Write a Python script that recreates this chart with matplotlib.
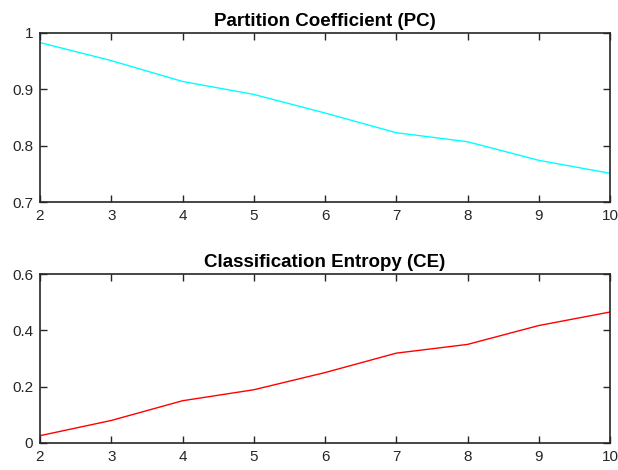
import matplotlib
matplotlib.use("Agg")
import matplotlib.pyplot as plt

clusters = [2, 3, 4, 5, 6, 7, 8, 9, 10]
pc_values = [0.983, 0.951, 0.914, 0.891, 0.858, 0.823, 0.807, 0.774, 0.751]
ce_values = [0.026, 0.080, 0.150, 0.189, 0.250, 0.319, 0.350, 0.417, 0.465]
pc_yticks = [0.7, 0.8, 0.9, 1.0]
pc_yticklabels = ["0.7", "0.8", "0.9", "1"]
ce_yticks = [0, 0.2, 0.4, 0.6]
ce_yticklabels = ["0", "0.2", "0.4", "0.6"]

plt.rcParams['font.family'] = ['Liberation Sans', 'DejaVu Sans']
fig = plt.figure(figsize=(6.18, 4.70), dpi=100)

W, H = 618, 470
def pos(x0, y0, x1, y1):
    return [x0 / W, 1 - y1 / H, (x1 - x0) / W, (y1 - y0) / H]

ax1 = fig.add_axes(pos(40, 33, 610, 202))
ax2 = fig.add_axes(pos(40, 274, 610, 443))

dark = '#262626'
for ax, vals, col, title, yt, ytl, ylim in [
    (ax1, pc_values, '#00ffff', 'Partition Coefficient (PC)', pc_yticks, pc_yticklabels, (0.7, 1.0)),
    (ax2, ce_values, '#ff0000', 'Classification Entropy (CE)', ce_yticks, ce_yticklabels, (0, 0.6)),
]:
    ax.plot(clusters, vals, color=col, lw=1.0)
    ax.set_xlim(2, 10)
    ax.set_ylim(*ylim)
    ax.set_xticks(clusters)
    ax.set_yticks(yt)
    ax.set_yticklabels(ytl)
    ax.tick_params(direction='in', top=True, right=True, length=5, width=1.0,
                   colors=dark, labelsize=11, labelcolor=dark, pad=5)
    for s in ax.spines.values():
        s.set_color(dark)
        s.set_linewidth(1.2)
    ax.set_title(title, fontsize=13.5, fontweight='bold', color='black', pad=5)

fig.savefig('out.png', dpi=100)
